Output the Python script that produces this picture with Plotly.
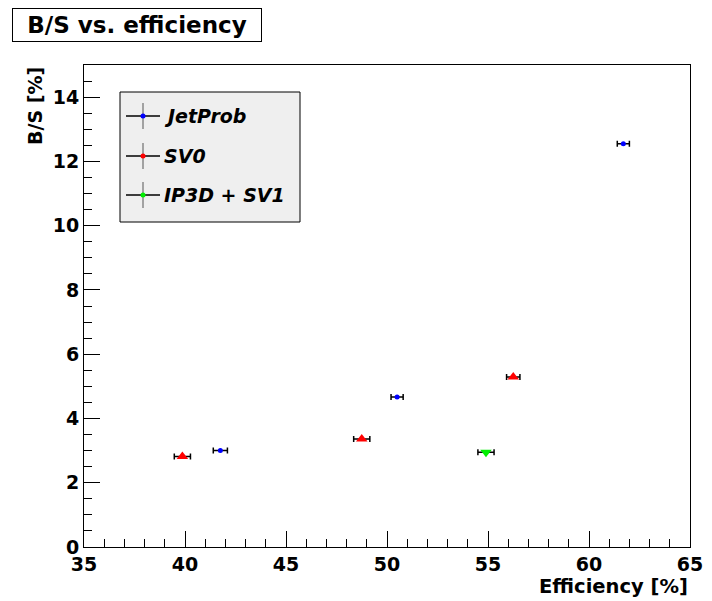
import plotly.graph_objects as go

# ---- data ----
series_names = ["JetProb", "SV0", "IP3D + SV1"]
series_colors = ["#0000ff", "#ff0000", "#00ee00"]
series_symbols = ["circle", "triangle-up", "triangle-down"]
series_sizes = [5, 10, 10]

jetprob_eff = [41.75, 50.5, 61.7]
jetprob_bs = [3.0, 4.67, 12.55]
jetprob_err = [0.35, 0.3, 0.3]

sv0_eff = [39.87, 48.75, 56.25]
sv0_bs = [2.82, 3.36, 5.29]
sv0_err = [0.4, 0.4, 0.33]

ip3d_eff = [54.9]
ip3d_bs = [2.95]
ip3d_err = [0.4]

x_ticks = [35, 40, 45, 50, 55, 60, 65]
y_ticks = [0, 2, 4, 6, 8, 10, 12, 14]

FONT = "DejaVu Sans, Liberation Sans, sans-serif"
W, H = 712, 601
ML, MR, MT, MB = 84, 22, 65, 54
PW, PH = W - ML - MR, H - MT - MB


def px(xp):
    return (xp - ML) / PW


def py(yp):
    return (H - MB - yp) / PH


fig = go.Figure()
data = [(jetprob_eff, jetprob_bs, jetprob_err),
        (sv0_eff, sv0_bs, sv0_err),
        (ip3d_eff, ip3d_bs, ip3d_err)]

for i, (xs, ys, errs) in enumerate(data):
    fig.add_trace(go.Scatter(
        x=xs, y=ys, mode="markers", showlegend=False, name=series_names[i],
        marker=dict(color=series_colors[i], symbol=series_symbols[i],
                    size=series_sizes[i], line=dict(width=0)),
        error_x=dict(type="data", array=errs, color="black", thickness=1.5, width=3),
    ))

fig.update_layout(
    width=W, height=H,
    margin=dict(l=ML, r=MR, t=MT, b=MB, autoexpand=False),
    plot_bgcolor="white", paper_bgcolor="white",
    font=dict(family=FONT, color="black"),
    showlegend=False,
    xaxis=dict(
        range=[35, 65], tickvals=x_ticks, ticks="inside", ticklen=16,
        tickcolor="black", showgrid=False, zeroline=False, automargin=False,
        showline=True, linecolor="black", linewidth=1, mirror=True,
        tickfont=dict(family=FONT, size=19, weight="bold"),
        minor=dict(dtick=1, ticks="inside", ticklen=8, tickcolor="black", showgrid=False),
    ),
    yaxis=dict(
        range=[0, 15], tickvals=y_ticks, ticks="inside", ticklen=16,
        tickcolor="black", showgrid=False, zeroline=False, automargin=False,
        showline=True, linecolor="black", linewidth=1, mirror=True,
        tickfont=dict(family=FONT, size=19, weight="bold"),
        minor=dict(dtick=0.5, ticks="inside", ticklen=8, tickcolor="black", showgrid=False),
    ),
)

# ---- legend box (drawn manually to match the ROOT style) ----
shapes = [dict(type="rect", xref="paper", yref="paper",
               x0=px(120), x1=px(300), y0=py(222), y1=py(92),
               fillcolor="#efefef", line=dict(color="black", width=1))]
entry_y = [116, 156, 195]
for i, name in enumerate(series_names):
    ey = entry_y[i]
    shapes.append(dict(type="line", xref="paper", yref="paper",
                       x0=px(126), x1=px(160), y0=py(ey), y1=py(ey),
                       line=dict(color="black", width=1.5)))
    shapes.append(dict(type="line", xref="paper", yref="paper",
                       x0=px(143), x1=px(143), y0=py(ey - 13), y1=py(ey + 13),
                       line=dict(color="#888888", width=1.5)))
    shapes.append(dict(type="circle", xref="paper", yref="paper",
                       x0=px(140.5), x1=px(145.5), y0=py(ey + 2.5), y1=py(ey - 2.5),
                       fillcolor=series_colors[i], line=dict(width=0)))
    fig.add_annotation(
        text=name, xref="paper", yref="paper", x=px(162), y=py(ey),
        xanchor="left", yanchor="middle", showarrow=False,
        font=dict(family=FONT, size=19, weight="bold", style="italic", color="black"),
    )
fig.update_layout(shapes=shapes)

# title box
fig.add_annotation(
    text="B/S vs. efficiency", xref="paper", yref="paper",
    x=px(137), y=py(25), xanchor="center", yanchor="middle",
    showarrow=False, width=246, height=30,
    bgcolor="white", bordercolor="black", borderwidth=1,
    font=dict(family=FONT, size=23, weight="bold", color="black"),
)
# axis titles
fig.add_annotation(
    text="Efficiency [%]", xref="paper", yref="paper",
    x=1.0, y=py(586), xanchor="right", yanchor="middle", showarrow=False,
    font=dict(family=FONT, size=19.5, weight="bold", color="black"),
)
fig.add_annotation(
    text="B/S [%]", xref="paper", yref="paper",
    x=px(35), y=1.0, xanchor="center", yanchor="top", textangle=-90, showarrow=False,
    font=dict(family=FONT, size=19, weight="bold", color="black"),
)

fig.write_html("out.html")
